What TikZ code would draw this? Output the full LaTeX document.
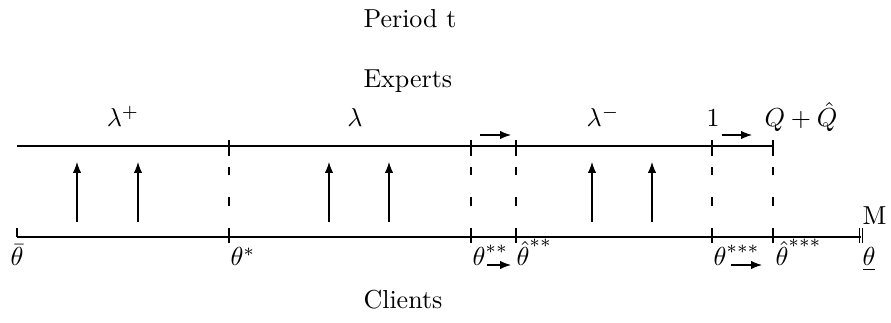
\documentclass[tikz,border=0pt]{standalone}
\usetikzlibrary{arrows.meta}
\newcommand{\myraise}[2]{\raisebox{#1}{$\scriptstyle #2$}}
\begin{document}
\begin{tikzpicture}[x=0.3846pt,y=-0.3846pt,
  axis/.style={line width=0.4pt},
  divider/.style={line width=0.4pt,dash pattern=on 3.3pt off 8.6pt},
  tickmark/.style={line width=0.4pt},
  flow/.style={line width=0.4pt,-{Latex[length=4.2pt,width=3.2pt]}},
  lbl/.style={anchor=base west,inner sep=0pt},
  clbl/.style={anchor=base,inner sep=0pt}]
\useasboundingbox (0,0) rectangle (891,323);
% axes
\coordinate (tL) at (17,146); \coordinate (tR) at (773,146);
\coordinate (bL) at (17,237); \coordinate (bR) at (861,237);
\draw[axis] (tL) -- (tR);
\draw[axis] (bL) -- (bR);
% end ticks
\coordinate (lt1) at (17,228); \draw[tickmark] (bL) -- (lt1);
\coordinate (rt1) at (859.5,228); \coordinate (rt2) at (859.5,243);
\coordinate (rt3) at (862.5,228); \coordinate (rt4) at (862.5,243);
\draw[tickmark] (rt1) -- (rt2);
\draw[tickmark] (rt3) -- (rt4);
% dividers
\foreach \x/\n in {229/a,471/b,516/c,712/d,773/e}{
  \coordinate (dT\n) at (\x,146);
  \coordinate (dB\n) at (\x,237);
  \coordinate (tu\n) at (\x,140);
  \coordinate (td\n) at (\x,156);
  \coordinate (bu\n) at (\x,230);
  \coordinate (bd\n) at (\x,243);
  \draw[divider] (dB\n) -- (dT\n);
  \draw[tickmark] (tu\n) -- (td\n);
  \draw[tickmark] (bu\n) -- (bd\n);
}
% vertical arrows
\foreach \x/\n in {77/1,138/2,329/3,389/4,592/5,652/6}{
  \coordinate (vs\n) at (\x,222);
  \coordinate (ve\n) at (\x,162);
  \draw[flow] (vs\n) -- (ve\n);
}
% horizontal arrows
\coordinate (h1s) at (480,135); \coordinate (h1e) at (511,135);
\coordinate (h2s) at (722,135); \coordinate (h2e) at (752,135);
\coordinate (h3s) at (487,265); \coordinate (h3e) at (511,265);
\coordinate (h4s) at (731,265); \coordinate (h4e) at (762,265);
\draw[flow] (h1s) -- (h1e);
\draw[flow] (h2s) -- (h2e);
\draw[flow] (h3s) -- (h3e);
\draw[flow] (h4s) -- (h4e);
% titles
\node[lbl] (period) at (363,28) {Period t};
\node[lbl] (experts) at (363,88) {Experts};
\node[lbl] (clients) at (363,309) {Clients};
% top labels
\node[clbl] (lp) at (123,127) {$\lambda^{+}$};
\node[clbl] (l0) at (355,127) {$\lambda$};
\node[clbl] (lm) at (603,127) {$\lambda^{-}$};
\node[clbl] (one) at (713,127) {$1$};
\node[clbl] (qq) at (801,127) {$Q+\hat{Q}$};
\node[lbl] (mm) at (862,225) {M};
% bottom labels
\node[clbl] (thbar) at (17,266) {$\bar{\theta}$};
\node[lbl] (th1) at (230,266) {$\theta^{*}$};
\node[lbl] (th2) at (472,266) {$\theta^{\myraise{1.2pt}{**}}$};
\node[lbl] (th2h) at (516,266) {$\hat{\theta}^{\myraise{3.5pt}{**}}$};
\node[lbl] (th3) at (713,266) {$\theta^{\myraise{1.2pt}{***}}$};
\node[lbl] (th3h) at (775,266) {$\hat{\theta}^{\myraise{3.5pt}{***}}$};
\node[lbl] (thu) at (862,266) {$\underline{\theta}$};
\end{tikzpicture}
\end{document}
